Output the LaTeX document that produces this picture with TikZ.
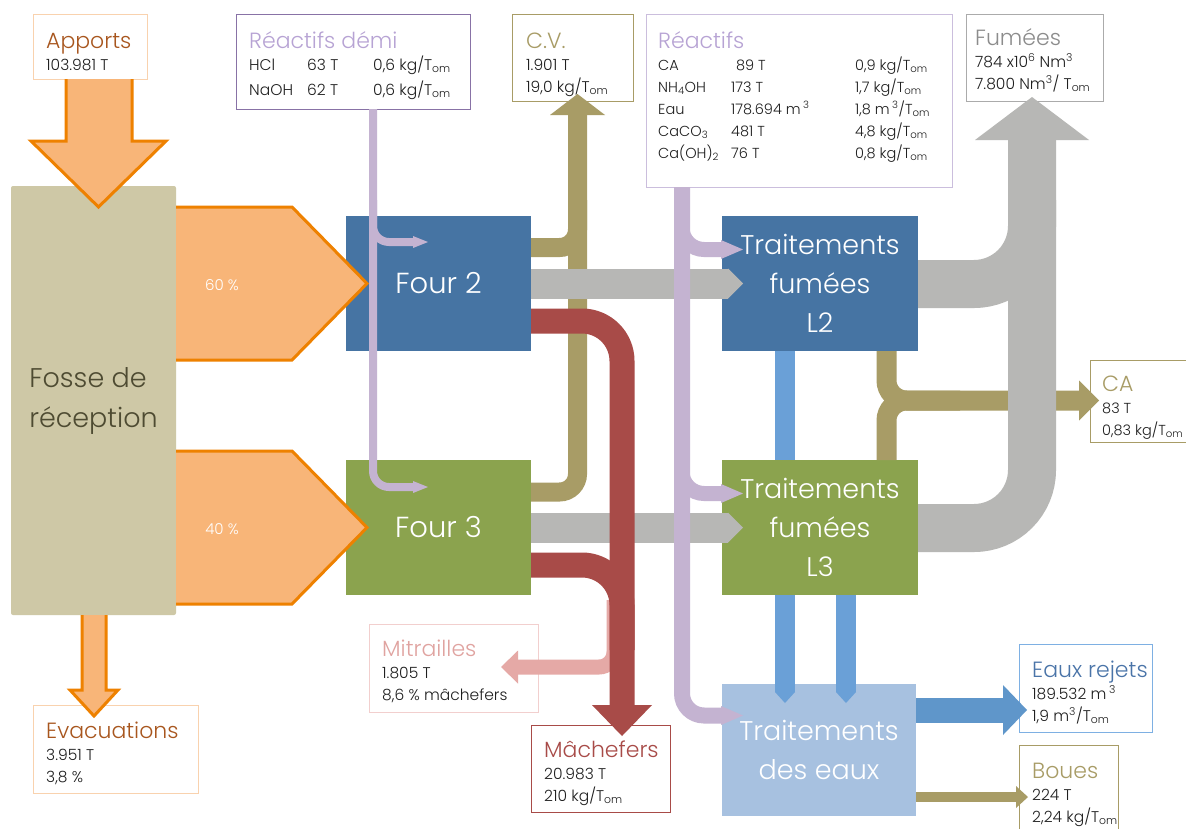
\documentclass[tikz,border=0pt]{standalone}
\usepackage{fontspec}
\setmainfont{Poppins}[UprightFont={* Light}]
\usetikzlibrary{arrows.meta}

\definecolor{orfill}{HTML}{F8B578}
\definecolor{orline}{HTML}{EE8100}
\definecolor{orborder}{HTML}{F9D2AE}
\definecolor{apportc}{HTML}{A8561E}
\definecolor{fossec}{HTML}{CEC8A6}
\definecolor{fossetxt}{HTML}{4E4B32}
\definecolor{bluebox}{HTML}{4674A3}
\definecolor{greenbox}{HTML}{8BA34E}
\definecolor{eauxbox}{HTML}{A7C1E0}
\definecolor{grayflow}{HTML}{B7B7B5}
\definecolor{olivec}{HTML}{A89C66}
\definecolor{redflow}{HTML}{A84B48}
\definecolor{pinkflow}{HTML}{E5A9A6}
\definecolor{lav}{HTML}{C4B3D1}
\definecolor{lavtitle}{HTML}{B7A3D4}
\definecolor{lavborder}{HTML}{8872A6}
\definecolor{lavlight}{HTML}{CBBEDD}
\definecolor{waterc}{HTML}{6AA0D7}
\definecolor{rejetc}{HTML}{5F96CA}
\definecolor{graytitle}{HTML}{8C8C8C}
\definecolor{grayborder}{HTML}{ABABAB}
\definecolor{pinktitle}{HTML}{E0A3A0}
\definecolor{pinkborder}{HTML}{F2CFCE}
\definecolor{eauxtitle}{HTML}{4A74A8}
\definecolor{eauxborder}{HTML}{7EB0E3}

% title line of an info box (strut keeps first baseline fixed)
\newcommand{\ttl}[2]{\rule{0pt}{22pt}{\fontsize{22}{22}\selectfont\color{#1}#2}}
\newcommand{\Tom}{T\textsubscript{om}}

\begin{document}
\begin{tikzpicture}[
    x=1pt, y=-1pt,
    % info boxes: white, coloured frame
    infobox/.style={draw=#1, fill=white, line width=1.3pt, anchor=north west, inner sep=0pt},
    infotxt/.style={anchor=north west, inner sep=0pt, align=left, text=black!88,
                    font=\fontsize{15.5}{22}\selectfont},
    % process blocks
    blk/.style={rectangle, inner sep=0pt, text=white, align=center},
    fossenode/.style={blk, fill=fossec, text=fossetxt, rounded corners=2pt,
                      minimum width=165pt, minimum height=429pt, align=left,
                      font=\fontsize{27}{40}\selectfont},
    fournode/.style={blk, minimum width=185pt, minimum height=135pt,
                     font=\fontsize{29}{36}\selectfont},
    trtnode/.style={blk, minimum width=196pt, minimum height=135pt,
                    font=\fontsize{27}{39}\selectfont},
    pct/.style={text=white, font=\fontsize{15}{16}\selectfont},
    % flows
    oarrow/.style={fill=orfill, draw=orline, line width=3pt, line join=miter},
    cvflow/.style={draw=olivec, line width=19pt, rounded corners=18pt},
    caflow/.style={draw=olivec, line width=20pt, rounded corners=20pt},
    gflow/.style={draw=grayflow, line width=30pt},
    fumflow/.style={draw=grayflow, line width=48pt, rounded corners=58pt},
    machflow/.style={draw=redflow, line width=25pt, rounded corners=40pt},
    mitflow/.style={draw=pinkflow, line width=15pt, rounded corners=15pt},
    demiflow/.style={draw=lav, line width=8pt, rounded corners=16pt},
    reacflow/.style={draw=lav, line width=15pt, rounded corners=22pt},
    eauflow/.style={draw=waterc, line width=20pt},
]
\useasboundingbox (0,0) rectangle (1186,828);
\fill[white] (0,0) rectangle (1186,828);

%% -- info boxes --
\node[infobox=orborder, minimum width=114pt, minimum height=65pt] (apports) at (33,14) {};
\node[infotxt] (apportst) at (46,26) {\ttl{apportc}{Apports}\\103.981 T};

\node[infobox=lavborder, minimum width=234pt, minimum height=95pt] (reacdemi) at (236,14) {};
\node[infotxt] (reacdemit) at (249,26) {\ttl{lavtitle}{Réactifs démi}\\
  \makebox[58pt][l]{HCl}\makebox[66pt][l]{63 T}0,6 kg/\Tom\\[3pt]
  \makebox[58pt][l]{NaOH}\makebox[66pt][l]{62 T}0,6 kg/\Tom};

\node[infobox=olivec, minimum width=121pt, minimum height=87pt] (cv) at (512,14) {};
\node[infotxt] (cvt) at (526,26) {\ttl{olivec}{C.V.}\\1.901 T\\19,0 kg/\Tom};

\node[infobox=lavlight, minimum width=306pt, minimum height=173pt] (reac) at (646,14) {};
\node[infotxt, font=\fontsize{14.5}{22}\selectfont] (react) at (658,26) {\ttl{lavtitle}{Réactifs}\\
  \makebox[73pt][l]{CA}\makebox[124pt][l]{\,\,89 T}0,9 kg/\Tom\\
  \makebox[73pt][l]{NH\textsubscript{4}OH}\makebox[124pt][l]{173 T}1,7 kg/\Tom\\
  \makebox[73pt][l]{Eau}\makebox[124pt][l]{178.694 m\,\textsuperscript{3}}1,8 m\,\textsuperscript{3}/\Tom\\
  \makebox[73pt][l]{CaCO\textsubscript{3}}\makebox[124pt][l]{481 T}4,8 kg/\Tom\\
  \makebox[73pt][l]{Ca(OH)\textsubscript{2}}\makebox[124pt][l]{76 T}0,8 kg/\Tom};

\node[infobox=grayborder, minimum width=137pt, minimum height=87pt] (fumees) at (966,14) {};
\node[infotxt] (fumeest) at (975,23) {\ttl{graytitle}{Fumées}\\
  784 x10\textsuperscript{6} Nm\textsuperscript{3}\\7.800 Nm\textsuperscript{3}/ \Tom};

\node[infobox=olivec, minimum width=110pt, minimum height=82pt] (ca) at (1090,360) {};
\node[infotxt, font=\fontsize{14.5}{22}\selectfont] (cat) at (1102,369) {\ttl{olivec}{CA}\\83 T\\0,83 kg/\Tom};

\node[infobox=pinkborder, minimum width=169pt, minimum height=88pt] (mitr) at (369,624) {};
\node[infotxt] (mitrt) at (382,634) {\ttl{pinktitle}{Mitrailles}\\1.805 T\\8,6 \% mâchefers};

\node[infobox=orborder, minimum width=165pt, minimum height=88pt] (evac) at (33,705) {};
\node[infotxt] (evact) at (46,716) {\ttl{apportc}{Evacuations}\\3.951 T\\3,8 \%};

\node[infobox=redflow, minimum width=139pt, minimum height=87pt] (mach) at (531,725) {};
\node[infotxt] (macht) at (544,735) {\ttl{redflow}{Mâchefers}\\20.983 T\\210 kg/\Tom};

\node[infobox=eauxborder, minimum width=133pt, minimum height=88pt] (rejets) at (1019,644) {};
\node[infotxt] (rejetst) at (1032,655) {\ttl{eauxtitle}{Eaux rejets}\\
  189.532 m\,\textsuperscript{3}\\1,9 m\textsuperscript{3}/\Tom};

\node[infobox=olivec, minimum width=99pt, minimum height=95pt] (boues) at (1019,745) {};
\node[infotxt] (bouest) at (1032,756) {\ttl{olivec}{Boues}\\224 T\\2,24 kg/\Tom};

%% -- process blocks --
\node[fossenode] (fosse) at (93.5,400.5) {Fosse de\\réception};
\node[fournode, fill=bluebox]  (four2) at (438.5,283.5) {Four 2};
\node[fournode, fill=greenbox] (four3) at (438.5,527.5) {Four 3};
\node[trtnode, fill=bluebox]   (tfl2)  at (820,283.5) {Traitements\\fumées\\L2};
\node[trtnode, fill=greenbox]  (tfl3)  at (820,527.5) {Traitements\\fumées\\L3};
\node[blk, fill=eauxbox, minimum width=194pt, minimum height=132pt,
      font=\fontsize{27}{39}\selectfont] (tde) at (819,750) {Traitements\\des eaux};

%% -- orange inputs / outputs of the pit --
\filldraw[oarrow] (66,79) -- (66,141) -- (31,141) -- (98.5,207) -- (166,141) -- (132,141) -- (132,79);
\filldraw[oarrow] (176,207) -- (292,207) -- (367,283.5) -- (292,360) -- (176,360);
\filldraw[oarrow] (176,451) -- (292,451) -- (367,527.5) -- (292,604) -- (176,604);
\filldraw[oarrow] (82,615) -- (82,690) -- (70,690) -- (94,716) -- (118,690) -- (106,690) -- (106,615);
\node[pct] (p60) at (222,285) {60 \%};
\node[pct] (p40) at (222,529) {40 \%};

%% -- C.V. (olive) --
\draw[cvflow, -{Triangle[length=21pt,width=55pt,line width=0pt]}] (531,492) -| (577.5,94);
\draw[cvflow] (531,247.5) -| (577.5,200);

%% -- CA (olive) --
\draw[caflow, -{Triangle[length=20pt,width=40pt,line width=0pt]}] (886.5,351) |- (1099,400.5);
\draw[caflow] (886.5,460) |- (960,400.5);

%% -- fumes (grey) --
\draw[gflow, -{Triangle[length=15pt,width=30pt,line width=0pt]}] (531,283.5) -- (743,283.5);
\draw[gflow, -{Triangle[length=15pt,width=30pt,line width=0pt]}] (531,527.5) -- (743,527.5);
\draw[fumflow, -{Triangle[length=43pt,width=114pt,line width=0pt]}] (918,528) -| (1032,97);
\draw[fumflow] (918,284) -| (1032,200);

%% -- Mitrailles / Machefers --
\draw[mitflow, -{Triangle[length=17pt,width=33pt,line width=0pt]}] (614,600) |- (501,667);
\draw[machflow, -{Triangle[length=31pt,width=60pt,line width=0pt]}] (531,321) -| (622,736);
\draw[machflow] (531,565) -| (622,650);

%% -- reagents (lavender) --
\draw[demiflow, -{Triangle[length=15pt,width=12pt,line width=0pt]}] (373,109) |- (428,487);
\draw[demiflow, -{Triangle[length=15pt,width=12pt,line width=0pt]}] (373,200) |- (428,242);
\draw[reacflow, line width=16pt, -{Triangle[length=22pt,width=19pt,line width=0pt]}] (682,187) |- (743,715.5);
\draw[reacflow, -{Triangle[length=22pt,width=19pt,line width=0pt]}] (682,220) |- (743,249.5);
\draw[reacflow, -{Triangle[length=22pt,width=19pt,line width=0pt]}] (682,465) |- (743,493.5);

%% -- water --
\draw[eauflow] (785,351) -- (785,460);
\draw[eauflow, -{Triangle[length=11pt,width=20pt,line width=0pt]}] (785,595) -- (785,703);
\draw[eauflow, -{Triangle[length=11pt,width=20pt,line width=0pt]}] (846,595) -- (846,703);
\draw[draw=rejetc, line width=25pt, -{Triangle[length=24pt,width=50pt,line width=0pt]}] (916,710) -- (1027,710);
\draw[draw=olivec, line width=10pt, -{Triangle[length=12pt,width=22pt,line width=0pt]}] (916,797) -- (1028,797);

\end{tikzpicture}
\end{document}
